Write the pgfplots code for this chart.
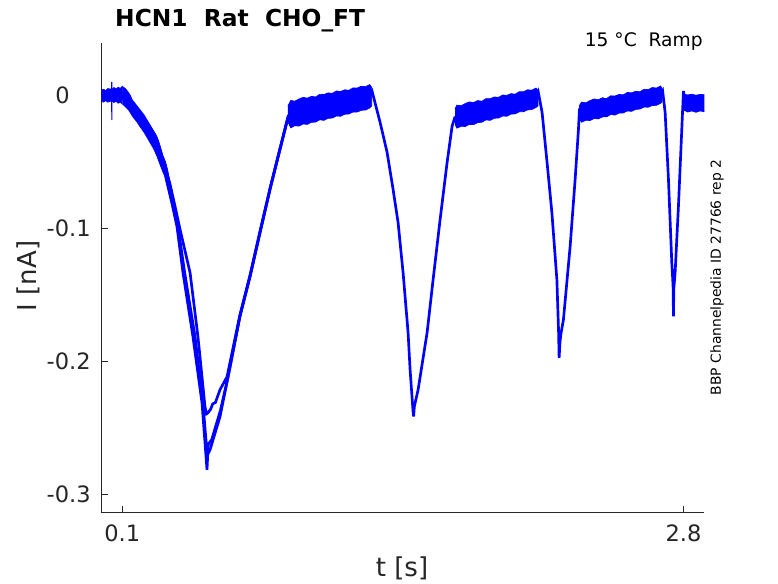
\documentclass[border=0pt]{standalone}
\usepackage{pgfplots}
\pgfplotsset{compat=1.18}
\usepackage{fontspec}
\setmainfont{DejaVu Sans}
\definecolor{axgray}{RGB}{38,38,38}
\definecolor{mblue}{RGB}{0,0,255}
\begin{document}
\begin{tikzpicture}
\path[use as bounding box] (-76.125pt,-53.025pt) rectangle (507.375pt,384.225pt);
\begin{axis}[
  scale only axis, width=452.1pt, height=352.2pt,
  at={(0,0)}, anchor=south west,
  xmin=0, xmax=2.9, ymin=-0.3135, ymax=0.0395,
  axis lines*=left,
  axis line style={axgray, line width=0.6pt},
  tick align=inside, major tick length=5pt,
  tick style={axgray, line width=0.6pt},
  xtick={0.1,2.8}, xticklabels={0.1,2.8},
  ytick={-0.3,-0.2,-0.1,0}, yticklabels={-0.3,-0.2,-0.1,{0\rule{15.75pt}{0pt}}},
  xticklabel style={font=\fontsize{16.9}{20}\selectfont, text=axgray, inner sep=0pt, anchor=north, yshift=-9.5pt},
  yticklabel style={font=\fontsize{16.9}{20}\selectfont, text=axgray, inner sep=0pt, anchor=east, xshift=-7.9pt},
  /pgf/number format/assume math mode=true,
]
% noise bands
\addplot[mblue, fill=mblue, line width=0.5pt] coordinates {
(0,0.004)(0.01,0.0045)(0.02,0.0035)(0.03,0.005)(0.05,0.0045)(0.06,0.0058)(0.07,0.0048)(0.08,0.006)(0.09,0.0052)(0.10,0.0066)
(0.10,-0.0068)(0.09,-0.0052)(0.08,-0.006)(0.07,-0.0045)(0.06,-0.0055)(0.05,-0.0042)(0.03,-0.0052)(0.02,-0.004)(0.01,-0.0052)(0,-0.0045)};
\addplot[mblue, line width=0.9pt] coordinates {(0.049,0.010)(0.050,-0.0186)};
\addplot[mblue, fill=mblue, line width=0.5pt] coordinates {
(0.10,0.0066)(0.115,0.005)(0.128,0.0025)(0.14,-0.0005)(0.152,-0.005)(0.165,-0.0075)(0.175,-0.0095)(0.185,-0.0125)(0.195,-0.0140)(0.205,-0.0165)(0.215,-0.019)(0.224,-0.0215)(0.236,-0.0235)(0.248,-0.027)(0.26,-0.029)(0.272,-0.033)(0.284,-0.039)(0.296,-0.0455)(0.308,-0.050)(0.318,-0.056)
(0.335,-0.070)(0.320,-0.066)(0.305,-0.061)(0.296,-0.058)(0.28,-0.0515)(0.267,-0.046)(0.25,-0.040)(0.235,-0.036)(0.224,-0.033)(0.205,-0.028)(0.185,-0.0235)(0.17,-0.020)(0.152,-0.0165)(0.13,-0.011)(0.1034,-0.0068)};
\addplot[mblue, fill=mblue, line width=0.5pt] coordinates {
(0.897,-0.008)(0.91,-0.0039)(0.93,-0.0045)(0.95,-0.0028)(0.97,-0.0016)(0.99,-0.0022)(1.01,-0.0008)(1.03,-0.0013)(1.05,0.0007)(1.07,0.0005)(1.09,0.0018)(1.11,0.0014)(1.13,0.0032)(1.15,0.0028)(1.17,0.0041)(1.19,0.0037)(1.21,0.0055)(1.23,0.0054)(1.25,0.0068)(1.27,0.0064)(1.29,0.0080)(1.300,0.006)
(1.300,-0.008)(1.29,-0.0096)(1.27,-0.0111)(1.25,-0.0113)(1.23,-0.0126)(1.21,-0.0126)(1.19,-0.0141)(1.17,-0.0143)(1.15,-0.0158)(1.13,-0.0156)(1.11,-0.0172)(1.09,-0.0173)(1.07,-0.0189)(1.05,-0.0184)(1.03,-0.0202)(1.01,-0.0203)(0.99,-0.0219)(0.97,-0.0216)(0.95,-0.0232)(0.93,-0.0229)(0.91,-0.0245)(0.897,-0.020)};
\addplot[mblue, fill=mblue, line width=0.5pt] coordinates {
(1.701,-0.010)(1.71,-0.0074)(1.73,-0.0079)(1.75,-0.0062)(1.77,-0.0050)(1.79,-0.0055)(1.81,-0.0040)(1.83,-0.0045)(1.85,-0.0025)(1.87,-0.0026)(1.89,-0.0013)(1.91,-0.0016)(1.93,0.0002)(1.95,-0.0001)(1.97,0.0012)(1.99,0.0008)(2.01,0.0027)(2.03,0.0026)(2.05,0.0041)(2.07,0.0038)(2.09,0.0054)(2.100,0.004)
(2.100,-0.008)(2.09,-0.0092)(2.07,-0.0108)(2.05,-0.0110)(2.03,-0.0124)(2.01,-0.0124)(1.99,-0.0140)(1.97,-0.0142)(1.95,-0.0158)(1.93,-0.0156)(1.91,-0.0171)(1.89,-0.0173)(1.87,-0.0189)(1.85,-0.0185)(1.83,-0.0203)(1.81,-0.0205)(1.79,-0.0221)(1.77,-0.0219)(1.75,-0.0235)(1.73,-0.0233)(1.71,-0.0248)(1.701,-0.022)};
\addplot[mblue, fill=mblue, line width=0.5pt] coordinates {
(2.298,-0.008)(2.31,-0.0051)(2.33,-0.0057)(2.35,-0.0040)(2.37,-0.0028)(2.39,-0.0034)(2.41,-0.0019)(2.43,-0.0025)(2.45,-0.0004)(2.47,-0.0006)(2.49,0.0006)(2.51,0.0003)(2.53,0.0021)(2.55,0.0018)(2.57,0.0030)(2.59,0.0026)(2.61,0.0045)(2.63,0.0043)(2.65,0.0058)(2.67,0.0054)(2.69,0.0070)(2.697,0.005)
(2.697,-0.005)(2.69,-0.0060)(2.67,-0.0076)(2.65,-0.0077)(2.63,-0.0090)(2.61,-0.0089)(2.59,-0.0104)(2.57,-0.0106)(2.55,-0.0121)(2.53,-0.0118)(2.51,-0.0133)(2.49,-0.0134)(2.47,-0.0149)(2.45,-0.0145)(2.43,-0.0162)(2.41,-0.0163)(2.39,-0.0178)(2.37,-0.0175)(2.35,-0.0190)(2.33,-0.0188)(2.31,-0.0203)(2.298,-0.018)};
\addplot[mblue, fill=mblue, line width=0.5pt] coordinates {
(2.800,0.001)(2.82,0.0002)(2.84,0.0008)(2.86,0.0)(2.88,0.0007)(2.904,0.0003)
(2.904,-0.0125)(2.88,-0.0118)(2.86,-0.0128)(2.84,-0.0118)(2.82,-0.0126)(2.800,-0.011)};
% first dip, three sweeps
\addplot[mblue, line width=2pt] coordinates {
(0.10,-0.002)(0.15,-0.008)(0.20,-0.019)(0.25,-0.031)(0.29,-0.048)(0.315,-0.0655)(0.34,-0.082)(0.363,-0.0986)(0.392,-0.1333)(0.44,-0.1815)(0.4835,-0.2312)(0.498,-0.2613)(0.5076,-0.2816)(0.511,-0.270)(0.522,-0.2666)(0.570,-0.2417)(0.609,-0.2116)(0.666,-0.1664)(0.715,-0.1363)(0.763,-0.1032)(0.811,-0.0708)(0.859,-0.0407)(0.897,-0.016)(0.91,-0.013)};
\addplot[mblue, line width=2pt] coordinates {
(0.10,0.0)(0.15,-0.010)(0.20,-0.019)(0.25,-0.032)(0.29,-0.050)(0.325,-0.0655)(0.368,-0.0986)(0.40,-0.1333)(0.45,-0.1815)(0.488,-0.2312)(0.502,-0.258)(0.508,-0.268)(0.515,-0.262)(0.530,-0.259)(0.572,-0.237)(0.609,-0.2116)(0.666,-0.166)(0.715,-0.135)(0.763,-0.102)(0.811,-0.070)(0.859,-0.040)(0.897,-0.017)};
\addplot[mblue, line width=2pt] coordinates {
(0.10,0.002)(0.15,-0.005)(0.20,-0.015)(0.25,-0.028)(0.30,-0.050)(0.33,-0.067)(0.354,-0.0836)(0.378,-0.1009)(0.426,-0.1333)(0.464,-0.1815)(0.498,-0.2342)(0.505,-0.2395)(0.512,-0.2387)(0.525,-0.236)(0.535,-0.232)(0.548,-0.231)(0.570,-0.2214)(0.604,-0.2116)(0.666,-0.165)(0.715,-0.1355)(0.763,-0.1025)(0.811,-0.070)(0.859,-0.040)(0.897,-0.017)};
% remaining dips
\addplot[mblue, line width=2pt] coordinates {
(1.29,0.000)(1.3017,0.003)(1.3402,-0.0203)(1.3739,-0.0429)(1.4028,-0.0708)(1.4268,-0.0956)(1.4509,-0.1333)(1.4750,-0.1785)(1.4846,-0.2063)(1.4990,-0.238)(1.5016,-0.2415)(1.5050,-0.234)(1.5231,-0.2214)(1.5664,-0.1785)(1.5953,-0.1386)(1.6290,-0.0934)(1.6627,-0.0505)(1.6867,-0.0233)(1.7012,-0.016)};
\addplot[mblue, line width=2pt] coordinates {
(2.09,0.000)(2.1006,0.003)(2.1197,-0.013)(2.1437,-0.0507)(2.1668,-0.0883)(2.1908,-0.1386)(2.1990,-0.178)(2.2016,-0.1973)(2.2060,-0.185)(2.2112,-0.1785)(2.2223,-0.1687)(2.2546,-0.1135)(2.2786,-0.0633)(2.2946,-0.0256)(2.2995,-0.010)};
\addplot[mblue, line width=2pt] coordinates {
(2.69,0.000)(2.6997,0.003)(2.7116,-0.013)(2.7276,-0.0633)(2.7436,-0.1258)(2.7480,-0.138)(2.7500,-0.145)(2.7516,-0.1662)(2.7535,-0.145)(2.7596,-0.1335)(2.7756,-0.0834)(2.7917,-0.0256)(2.7997,0.0032)(2.806,-0.005)};
\end{axis}
\node[anchor=base west, inner sep=0pt, font=\bfseries\fontsize{17.5}{20}\selectfont] at (10.1pt,364.0pt) {HCN1~~Rat~~CHO\_FT};
\node[anchor=base east, inner sep=0pt, font=\fontsize{14}{16}\selectfont, text=black] at (451.1pt,349.0pt) {15 °C~~Ramp};
\node[anchor=base, inner sep=0pt, font=\fontsize{19.5}{22}\selectfont, text=axgray] at (225.4pt,-47.8pt) {t [s]};
\node[anchor=base, inner sep=0pt, rotate=90, font=\fontsize{19.5}{22}\selectfont, text=axgray] at (-49.1pt,177.2pt) {I [nA]};
\node[anchor=base, inner sep=0pt, rotate=90, font=\fontsize{10.4}{12}\selectfont, text=black] at (464.6pt,176.1pt) {BBP Channelpedia ID 27766 rep 2};
\end{tikzpicture}
\end{document}
